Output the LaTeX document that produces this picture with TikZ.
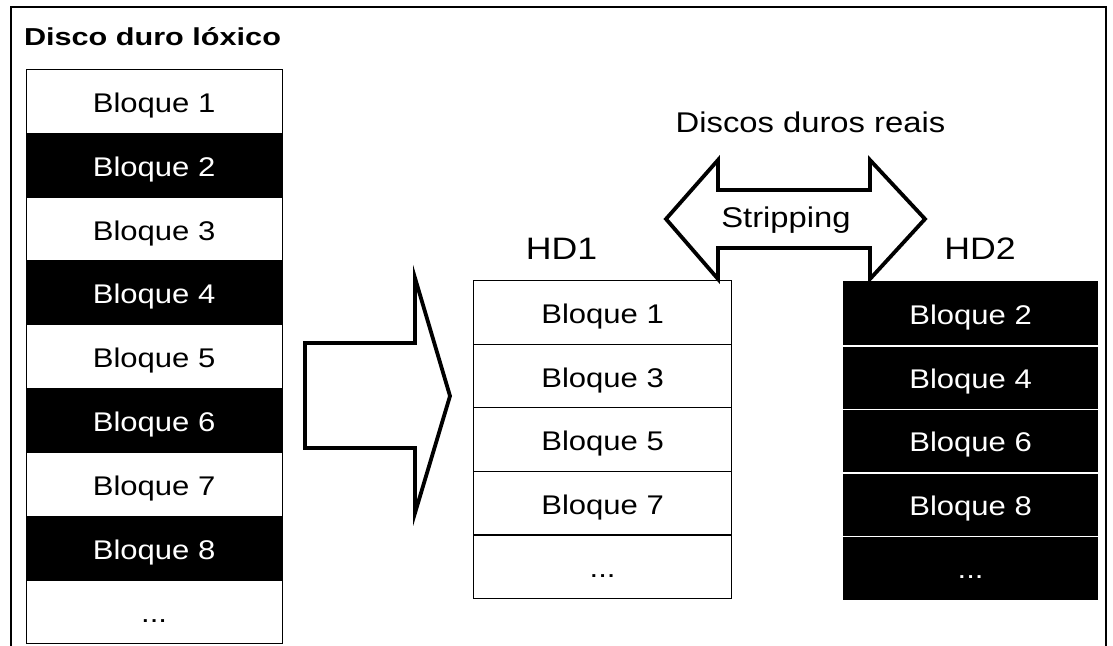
\documentclass[tikz,border=0pt]{standalone}
\usepackage{fontspec}
\setmainfont{Liberation Sans}
\newfontfamily\wf[FakeStretch=1.25]{Liberation Sans}
\newfontfamily\nf[FakeStretch=1.15]{Liberation Sans}
\newcommand\mydots{...}
\begin{document}
\begin{tikzpicture}[x=1pt,y=-1pt,
  cell/.style={draw=black, line width=1.2pt, inner sep=0pt, anchor=north west,
    text height=22pt, text depth=0pt, font=\nf\fontsize{27}{32}\selectfont},
  wcell/.style={cell, fill=white, text=black},
  bcell/.style={cell, fill=black, text=white},
  bigarrow/.style={draw=black, line width=3.8pt, line join=miter, fill=white},
  label/.style={anchor=base, inner sep=0pt},
  frame/.style={draw=black, line width=2pt}]
\useasboundingbox (0,0) rectangle (1113,645);
% frame
\draw[frame] (11,660) -- (11,7) -- (1106,7) -- (1106,660);
% title
\node[label, font=\wf\bfseries\fontsize{24.5}{28}\selectfont] (title) at (152.5,45.5) {Disco duro lóxico};
% left column
\foreach \i/\t/\s in {1/Bloque 1/wcell, 2/Bloque 2/bcell, 3/Bloque 3/wcell, 4/Bloque 4/bcell,
  5/Bloque 5/wcell, 6/Bloque 6/bcell, 7/Bloque 7/wcell, 8/Bloque 8/bcell, 9/\mydots/wcell}{
  \node[\s, minimum width=256pt, minimum height=63.8pt] (L\i) at (25.5,{69+(\i-1)*63.8}) {\t};
}
% HD1 column
\foreach \i/\t in {1/Bloque 1, 2/Bloque 3, 3/Bloque 5, 4/Bloque 7, 5/\mydots}{
  \node[wcell, minimum width=258pt, minimum height=63.6pt] (A\i) at (473,{280+(\i-1)*63.6}) {\t};
}
% HD2 column
\foreach \i/\t in {1/Bloque 2, 2/Bloque 4, 3/Bloque 6, 4/Bloque 8, 5/\mydots}{
  \node[bcell, minimum width=254pt, minimum height=63.6pt] (B\i) at (843,{281+(\i-1)*63.6}) {\t};
}
\foreach \i in {1,2,3,4}{
  \draw[white, line width=1.5pt] (B\i.south west) -- (B\i.south east);
}
% labels
\node[label, font=\nf\fontsize{31}{36}\selectfont] (hd1) at (561.5,259) {HD1};
\node[label, font=\nf\fontsize{31}{36}\selectfont] (hd2) at (980,259) {HD2};
\node[label, font=\nf\fontsize{28.5}{33}\selectfont] (reais) at (810.5,132) {Discos duros reais};
% right block arrow
\draw[bigarrow] (305,343) -- (415,343) -- (415,278) -- (450,396) -- (415,513) -- (415,448) -- (305,448) -- cycle;
% double block arrow
\draw[bigarrow] (666,219) -- (718,160) -- (718,190) -- (870,190) -- (870,160) -- (925,219)
  -- (870,279) -- (870,248) -- (718,248) -- (718,279) -- cycle;
\node[label, font=\nf\fontsize{28.5}{33}\selectfont] (strip) at (786,227) {Stripping};
\end{tikzpicture}
\end{document}
